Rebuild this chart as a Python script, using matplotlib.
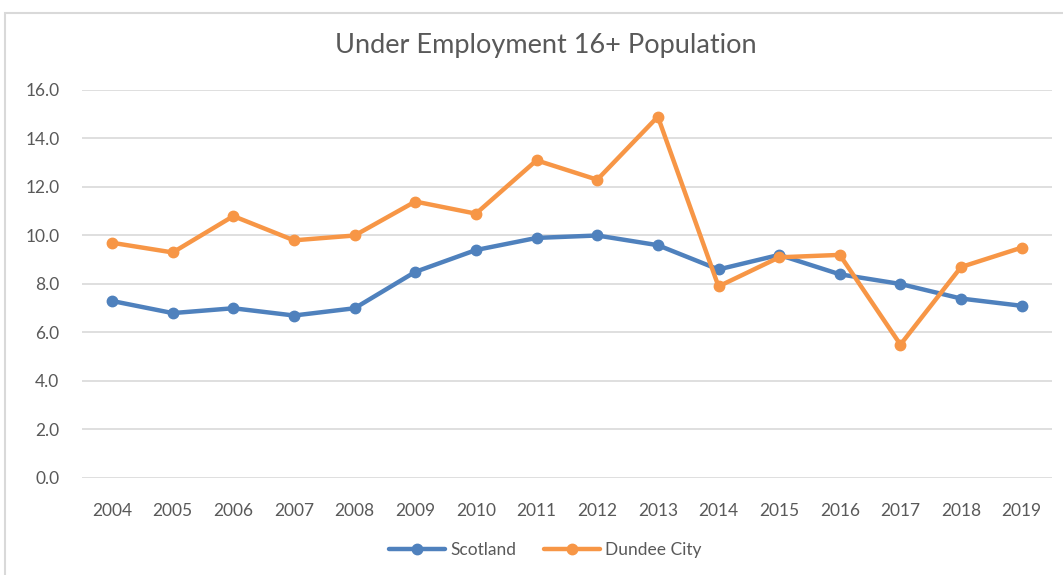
import matplotlib
matplotlib.use("Agg")
import matplotlib.pyplot as plt
from matplotlib.patches import Rectangle

years = ["2004", "2005", "2006", "2007", "2008", "2009", "2010", "2011",
         "2012", "2013", "2014", "2015", "2016", "2017", "2018", "2019"]
scotland = [7.3, 6.8, 7.0, 6.7, 7.0, 8.5, 9.4, 9.9, 10.0, 9.6, 8.6, 9.2, 8.4, 8.0, 7.4, 7.1]
dundee = [9.7, 9.3, 10.8, 9.8, 10.0, 11.4, 10.9, 13.1, 12.3, 14.9, 7.9, 9.1, 9.2, 5.5, 8.7, 9.5]

plt.rcParams['font.family'] = ['Lato', 'DejaVu Sans']
txt = '#595959'

fig = plt.figure(figsize=(10.63, 5.75), dpi=100)
# chart frame
fig.patches.append(Rectangle((5 / 1063, -0.01), 1.1, 1 - 13 / 575 + 0.01,
                             transform=fig.transFigure, fill=False,
                             edgecolor='#d9d9d9', linewidth=1.5))

ax = fig.add_axes([0.0769, 0.1687, 0.9128, 0.6748])
x = range(len(years))
ax.plot(x, scotland, color='#4F81BD', lw=3.2, marker='o', ms=7.5, label='Scotland',
        solid_capstyle='round')
ax.plot(x, dundee, color='#F79646', lw=3.2, marker='o', ms=7.5, label='Dundee City',
        solid_capstyle='round')

ax.set_xlim(-0.5, len(years) - 0.5)
ax.set_ylim(0, 16)
ax.set_yticks(range(0, 17, 2))
ax.set_yticklabels([f"{v:.1f}" for v in range(0, 17, 2)])
ax.set_xticks(list(x))
ax.set_xticklabels(years)
ax.yaxis.grid(True, color='#d9d9d9', lw=1.2)
ax.set_axisbelow(True)
for s in ax.spines.values():
    s.set_visible(False)
ax.tick_params(length=0, labelsize=12.5, colors=txt)
ax.tick_params(axis='x', pad=18)
ax.tick_params(axis='y', pad=16)

fig.text(0.513, 0.92, "Under Employment 16+ Population", ha='center', va='center',
         fontsize=19.5, color=txt)
fig.legend(loc='center', bbox_to_anchor=(0.513, 0.043), ncol=2, frameon=False,
           fontsize=12.5, labelcolor=txt, handlelength=3.2, columnspacing=1.6,
           handletextpad=0.3)

fig.savefig("out.png", dpi=100)
